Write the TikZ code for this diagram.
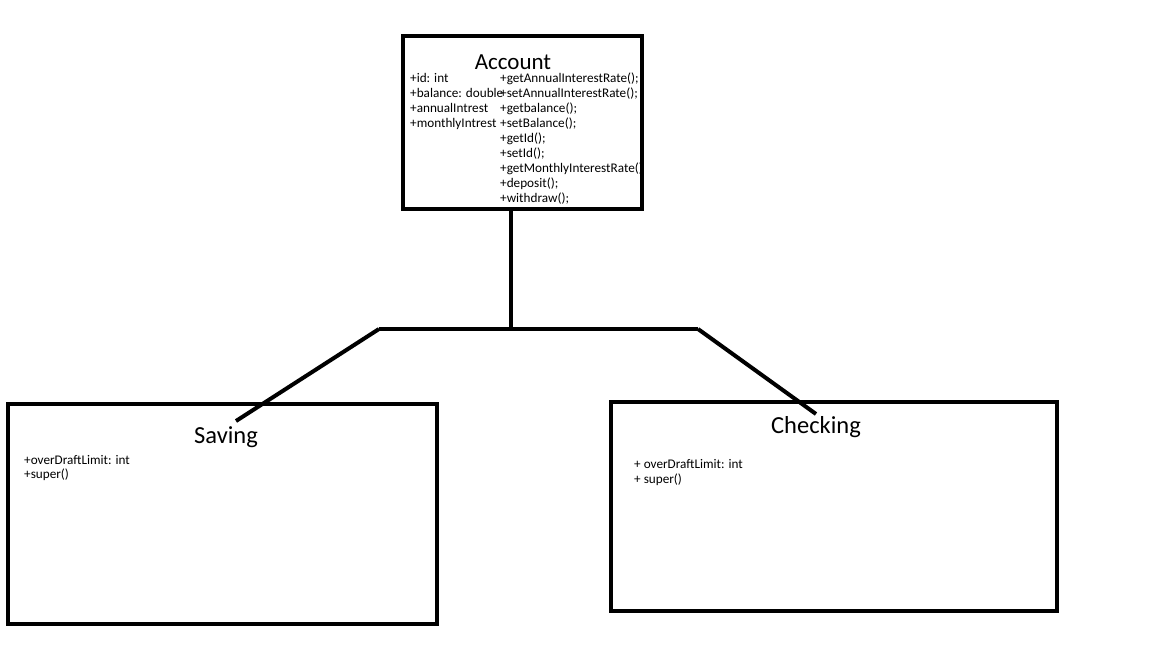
\documentclass[tikz,border=0pt]{standalone}
\usepackage{fontspec}
\setmainfont{Carlito}
\usetikzlibrary{positioning}

\begin{document}
\begin{tikzpicture}[
  x=1pt, y=-1pt,
  every node/.style={inner sep=0pt},
  classbox/.style={draw=black, line width=4pt, fill=white},
  title/.style={font=\fontsize{24.5}{28}\selectfont, anchor=base},
  members/.style={font=\fontsize{13.2}{15}\selectfont, align=left, anchor=north west},
  link/.style={draw=black, line width=4pt},
]
\useasboundingbox[fill=white] (0,0) rectangle (1152,648);
% class boxes
\node[classbox, minimum width=239pt, minimum height=173pt] (account)  at (522.5,122.5) {};
\node[classbox, minimum width=429pt, minimum height=220pt] (saving)   at (222.5,514) {};
\node[classbox, minimum width=446pt, minimum height=209pt] (checking) at (834,506.5) {};
% inheritance fork
\coordinate (fork)  at (511,329);
\coordinate (forkL) at (379,329);
\coordinate (forkR) at (698,329);
\coordinate (endL)  at (236,421);
\coordinate (endR)  at (816,414);
\draw[link] (account.south -| fork) -- (fork);
\draw[link] (forkL) -- (forkR);
\draw[link] (forkL) -- (endL);
\draw[link] (forkR) -- (endR);
% Account
\node[title, font=\fontsize{23}{28}\selectfont] (accTitle) at (513,69) {Account};
\node[members] (accAttr) at (410,73) {+id: int\\+balance: double\\+annualIntrest\\+monthlyIntrest};
\node[members] (accOps) at (500,73) {+getAnnualInterestRate();\\+setAnnualInterestRate();\\+getbalance();\\+setBalance();\\+getId();\\+setId();\\+getMonthlyInterestRate()\\+deposit();\\+withdraw();};
% Saving
\node[title] (savTitle) at (226,443) {Saving};
\node[members, font=\fontsize{13.2}{14}\selectfont] (savAttr) at (24,455) {+overDraftLimit: int\\+super()};
% Checking
\node[title] (chkTitle) at (816,433) {Checking};
\node[members] (chkAttr) at (634,459) {+ overDraftLimit: int\\+ super()};
\end{tikzpicture}
\end{document}
